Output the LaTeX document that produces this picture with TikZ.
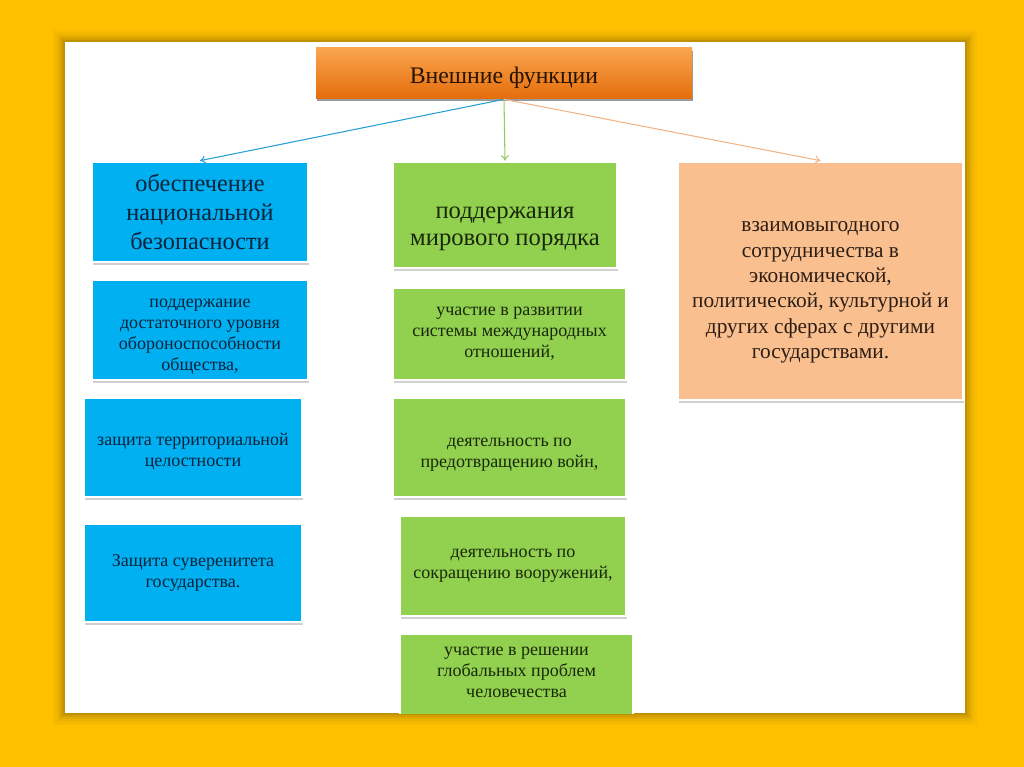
\documentclass[tikz,border=0pt]{standalone}
\usepackage{fontspec}
\setmainfont{Liberation Serif}
\usetikzlibrary{shadows,arrows.meta}
\definecolor{framey}{RGB}{255,192,0}
\definecolor{boxblue}{RGB}{0,176,240}
\definecolor{boxgreen}{RGB}{146,208,80}
\definecolor{boxpeach}{RGB}{250,191,143}
\definecolor{ortop}{RGB}{250,165,80}
\definecolor{orbot}{RGB}{228,110,12}
\definecolor{lnblue}{RGB}{40,160,215}
\definecolor{lngreen}{RGB}{150,200,100}
\definecolor{lnpeach}{RGB}{244,180,135}
\definecolor{txblue}{RGB}{10,35,60}
\definecolor{txgreen}{RGB}{25,40,10}
\definecolor{txpeach}{RGB}{45,30,20}
\newcommand{\topstrut}[1]{\rule{0pt}{#1}}
\newcommand{\botstrut}[1]{\rule[-#1]{0pt}{#1}}
\tikzset{
  box/.style={draw=white, line width=2pt, align=center, inner sep=2pt,
    drop shadow={shadow xshift=1pt, shadow yshift=-2pt, opacity=0.3, fill=black!60}},
  bluebox/.style={box, fill=boxblue, text=txblue},
  greenbox/.style={box, fill=boxgreen, text=txgreen},
  peachbox/.style={box, fill=boxpeach, text=txpeach},
  big/.style={font=\fontsize{18.2}{21.5}\selectfont},
  mid/.style={font=\fontsize{18.5}{20}\selectfont},
  peachfont/.style={font=\fontsize{16}{19}\selectfont},
  small/.style={font=\fontsize{13.5}{15.75}\selectfont},
  conn/.style={line width=0.8pt, -{To[length=4pt,width=6pt]}}
}
\begin{document}
\begin{tikzpicture}[x=0.75pt,y=-0.75pt]
\useasboundingbox (0,0) rectangle (1024,767);
\fill[framey] (0,0) rectangle (1024,767);
\foreach \d/\o in {1/0.35,3/0.25,5/0.17,7/0.10,9/0.06,11/0.03}
  \draw[black!70!framey, opacity=\o, line width=1.6pt] (65-\d,42-\d) rectangle (965+\d,713+\d);
\fill[white] (65,42) rectangle (965,713);
\begin{scope}
\clip (65,42) rectangle (965,713);
\node[box, draw=none, top color=ortop, bottom color=orbot, text=black!85!orange,
      minimum width=376*0.75pt, minimum height=50*0.75pt,
      font=\fontsize{17.8}{20}\selectfont,
      drop shadow={shadow xshift=1pt, shadow yshift=-2pt, opacity=0.4, fill=black!70}]
  (title) at (504,73) {\topstrut{19pt}Внешние функции};

\node[bluebox, big, minimum width=216*0.75pt, minimum height=100*0.75pt] (b1) at (200,212)
  {обеспечение\\национальной\\безопасности};
\node[bluebox, small, minimum width=216*0.75pt, minimum height=100*0.75pt] (b2) at (200,330)
  {\topstrut{16pt}поддержание\\достаточного уровня\\обороноспособности\\общества,};
\node[bluebox, small, minimum width=218*0.75pt, minimum height=99*0.75pt] (b3) at (193,447.5)
  {\topstrut{15pt}защита территориальной\\целостности};
\node[bluebox, small, minimum width=218*0.75pt, minimum height=98*0.75pt] (b4) at (193,573)
  {Защита суверенитета\\государства.};

\node[greenbox, mid, minimum width=224*0.75pt, minimum height=106*0.75pt] (g1) at (505,215)
  {\topstrut{29pt}поддержания\\мирового порядка};
\node[greenbox, small, minimum width=233*0.75pt, minimum height=92*0.75pt] (g2) at (509.5,334)
  {участие в развитии\\системы международных\\отношений,};
\node[greenbox, small, minimum width=233*0.75pt, minimum height=99*0.75pt] (g3) at (509.5,447.5)
  {\topstrut{17pt}деятельность по\\предотвращению войн,};
\node[greenbox, small, minimum width=226*0.75pt, minimum height=100*0.75pt] (g4) at (513,566)
  {деятельность по\\сокращению вооружений,};
\node[greenbox, small, minimum width=233*0.75pt, minimum height=86*0.75pt] (g5) at (516.5,677)
  {участие в решении\\глобальных проблем\\человечества\botstrut{7.5pt}};

\node[peachbox, peachfont, minimum width=285*0.75pt, minimum height=238*0.75pt] (p1) at (820.5,281)
  {\topstrut{24.5pt}взаимовыгодного\\сотрудничества в\\экономической,\\политической, культурной и\\других сферах с другими\\государствами.};

\draw[conn, lnblue] (title.south) -- (b1.north);
\draw[conn, lngreen] (title.south) -- (g1.north);
\draw[conn, lnpeach] (title.south) -- (p1.north);
\end{scope}
\end{tikzpicture}
\end{document}
